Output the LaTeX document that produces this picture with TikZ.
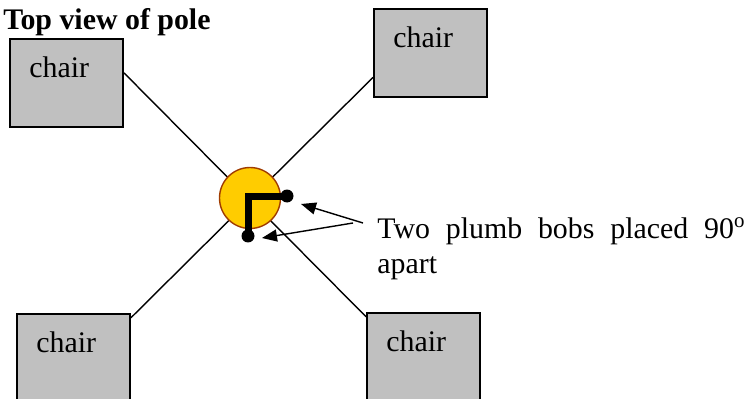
\documentclass[tikz,border=0pt]{standalone}
\usepackage{fontspec}
\setmainfont{Liberation Serif}
\usetikzlibrary{arrows.meta,positioning}

\definecolor{polefill}{RGB}{255,204,0}
\definecolor{poleedge}{RGB}{160,60,0}
\definecolor{chairgray}{RGB}{192,192,192}

\begin{document}
\begin{tikzpicture}[
    chair/.style={rectangle, draw=black, fill=chairgray, line width=1.1pt, minimum width=2.26cm, minimum height=1.76cm, inner sep=0pt},
    chairtext/.style={inner sep=0pt, font=\fontsize{17}{20}\selectfont},
    rope/.style={line width=0.8pt},
    bob/.style={circle, fill=black, inner sep=0pt, minimum size=0.26cm},
    pointer/.style={-{Triangle[length=0.3cm,width=0.24cm]}, line width=0.8pt}
]
\useasboundingbox (0,0) rectangle (15,7.96);

% Title
\node[anchor=base west, inner sep=0pt, font=\fontsize{17}{20}\selectfont\bfseries] (title) at (0.06,7.36) {Top view of pole};

% Chairs
\node[chair] (tl) at (1.33,6.30) {};
\node[chairtext, below right=0.36cm and 0.4cm of tl.north west] (tltext) {chair};
\node[chair] (tr) at (8.61,6.90) {};
\node[chairtext, below right=0.36cm and 0.4cm of tr.north west] (trtext) {chair};
\node[chair] (bl) at (1.47,0.80) {};
\node[chairtext, below right=0.36cm and 0.4cm of bl.north west] (bltext) {chair};
\node[chair] (br) at (8.47,0.82) {};
\node[chairtext, below right=0.36cm and 0.4cm of br.north west] (brtext) {chair};

% Ropes
\draw[rope] (tl.10) -- (br.145);
\draw[rope] (tr.203) -- (bl.35);

% Pole and plumb bobs
\node[circle, draw=poleedge, fill=polefill, line width=0.8pt, minimum size=1.22cm, inner sep=0pt] (pole) at (5.0,4.0) {};
\node[bob] (bobA) at (5.74,4.04) {};
\node[bob] (bobB) at (4.96,3.24) {};
\draw[line width=0.14cm, line join=miter] (bobA.center) -| (bobB.center);

% Note
\node[anchor=north west, inner sep=0pt, text width=7.36cm, align=justify, font=\fontsize{17}{20}\selectfont] (note) at (7.54,3.62) {Two plumb bobs placed 90\textsuperscript{o} apart};
\coordinate (tipA) at (6.02,3.88);
\coordinate (tipB) at (5.24,3.20);
\coordinate (tailA) at (7.26,3.50);
\coordinate (tailB) at (7.06,3.50);
\draw[pointer] (tailA) -- (tipA);
\draw[pointer] (tailB) -- (tipB);

\end{tikzpicture}
\end{document}
